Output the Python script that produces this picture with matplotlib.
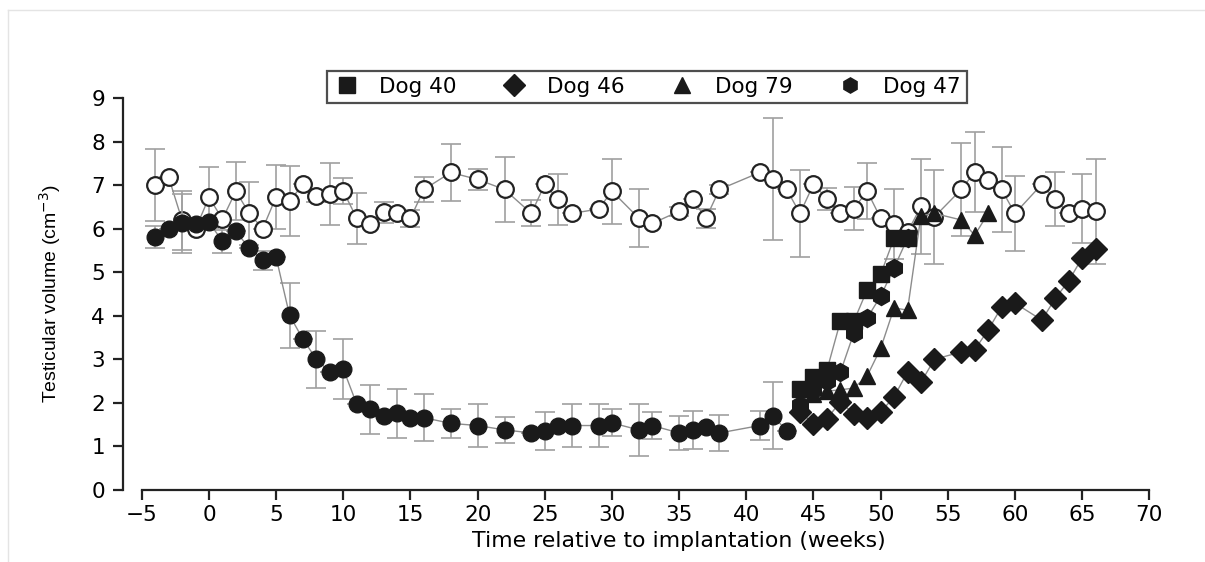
import matplotlib
matplotlib.use('Agg')
import matplotlib.pyplot as plt
from matplotlib.lines import Line2D

plt.rcParams['font.family'] = ['DejaVu Sans']
plt.rcParams['mathtext.fontset'] = 'dejavusans'

# Controles (círculos abiertos)
ctrl_weeks = [-4, -3, -2, -1, 0, 1, 2, 3, 4, 5, 6, 7, 8, 9, 10, 11, 12, 13, 14, 15,
              16, 18, 20, 22, 24, 25, 26, 27, 29, 30, 32, 33, 35, 36, 37, 38, 41, 42, 43, 44,
              45, 46, 47, 48, 49, 50, 51, 52, 53, 54, 56, 57, 58, 59, 60, 62, 63, 64, 65, 66]
ctrl_vals = [7.0, 7.18, 6.19, 5.99, 6.72, 6.22, 6.86, 6.35, 6.0, 6.73, 6.63, 7.02, 6.74, 6.79, 6.86, 6.24, 6.1, 6.38, 6.35, 6.24,
             6.9, 7.29, 7.13, 6.9, 6.35, 7.02, 6.67, 6.35, 6.45, 6.86, 6.24, 6.12, 6.4, 6.67, 6.24, 6.9, 7.29, 7.13, 6.9, 6.35,
             7.02, 6.69, 6.35, 6.46, 6.86, 6.24, 6.1, 5.92, 6.51, 6.27, 6.9, 7.3, 7.11, 6.9, 6.35, 7.02, 6.67, 6.35, 6.46, 6.4]
ctrl_err = [0.83, 0, 0.68, 0, 0.7, 0, 0.67, 0.72, 0, 0.74, 0.8, 0, 0.12, 0.71, 0.3, 0.59, 0, 0.24, 0, 0.2,
            0.28, 0.65, 0.25, 0.75, 0.3, 0, 0.59, 0, 0, 0.75, 0.67, 0, 0.1, 0, 0.22, 0.1, 0, 1.4, 0, 1.0,
            0, 0.25, 0, 0.5, 0.64, 0, 0.8, 0, 1.1, 1.08, 1.07, 0.91, 0, 0.97, 0.87, 0, 0.62, 0, 0.79, 1.2]

# Tratados (círculos negros)
tr_weeks = [-4, -3, -2, -1, 0, 1, 2, 3, 4, 5, 6, 7, 8, 9, 10, 11, 12, 13, 14, 15,
            16, 18, 20, 22, 24, 25, 26, 27, 29, 30, 32, 33, 35, 36, 37, 38, 41, 42, 43]
tr_vals = [5.8, 6.0, 6.12, 6.1, 6.15, 5.71, 5.94, 5.55, 5.27, 5.34, 4.01, 3.46, 3.0, 2.71, 2.78, 1.97, 1.85, 1.71, 1.76, 1.66,
           1.66, 1.53, 1.48, 1.38, 1.31, 1.35, 1.48, 1.48, 1.48, 1.54, 1.38, 1.48, 1.31, 1.38, 1.45, 1.31, 1.48, 1.7, 1.36]
tr_err = [0.25, 0, 0.68, 0, 0, 0.27, 0, 0, 0.22, 0, 0.74, 0, 0.65, 0, 0.68, 0, 0.57, 0, 0.57, 0,
          0.54, 0.33, 0.49, 0.29, 0, 0.43, 0, 0.49, 0.49, 0.31, 0.59, 0.31, 0.39, 0.43, 0, 0.42, 0.33, 0.77, 0]

# Perros individuales
dog40_weeks = [44, 45, 46, 47, 48, 49, 50, 51, 52]
dog40_vals = [2.33, 2.6, 2.75, 3.87, 3.87, 4.6, 4.95, 5.78, 5.78]
dog46_weeks = [44, 45, 46, 47, 48, 49, 50, 51, 52, 53, 54, 56, 57, 58, 59, 60, 62, 63, 64, 65, 66]
dog46_vals = [1.8, 1.52, 1.63, 2.03, 1.74, 1.66, 1.79, 2.14, 2.71, 2.47, 3.0, 3.17, 3.22, 3.67, 4.2, 4.29, 3.9, 4.4, 4.8, 5.33, 5.53]
dog79_weeks = [44, 45, 46, 47, 48, 49, 50, 51, 52, 53, 54, 56, 57, 58]
dog79_vals = [2.0, 2.2, 2.27, 2.3, 2.34, 2.62, 3.25, 4.18, 4.13, 6.3, 6.35, 6.2, 5.85, 6.35]
dog47_weeks = [44, 45, 46, 47, 48, 49, 50, 51, 52]
dog47_vals = [1.95, 2.3, 2.5, 2.7, 3.6, 3.95, 4.45, 5.1, 5.78]

fig = plt.figure(figsize=(12.05, 5.62), dpi=100)
ax = fig.add_axes([123 / 1205, 72 / 562, (1152 - 123) / 1205, (490 - 98) / 562])

line_c = '#8c8c8c'
err_c = '#a0a0a0'
dark = '#1a1a1a'

ax.errorbar(ctrl_weeks, ctrl_vals, yerr=ctrl_err, fmt='none', ecolor=err_c,
            elinewidth=1.2, capsize=7, capthick=1.2, zorder=1)
ax.plot(ctrl_weeks, ctrl_vals, color=line_c, lw=1, zorder=2)
ax.plot(ctrl_weeks, ctrl_vals, 'o', ls='none', ms=12, mfc='white', mec='#222222', mew=1.6, zorder=3)

ax.errorbar(tr_weeks, tr_vals, yerr=tr_err, fmt='none', ecolor=err_c,
            elinewidth=1.2, capsize=7, capthick=1.2, zorder=4)
ax.plot(tr_weeks, tr_vals, color=line_c, lw=1, zorder=5)
ax.plot(tr_weeks, tr_vals, 'o', ls='none', ms=12, mfc=dark, mec=dark, zorder=6)

dogs = [
    (dog46_weeks, dog46_vals, 'D', 11, 'Dog 46'),
    (dog79_weeks, dog79_vals, '^', 12, 'Dog 79'),
    (dog47_weeks, dog47_vals, 'h', 13, 'Dog 47'),
    (dog40_weeks, dog40_vals, 's', 12, 'Dog 40'),
]
for i, (w, v, m, s, lab) in enumerate(dogs):
    ax.plot(w, v, color=line_c, lw=1, zorder=7 + 2 * i)
    ax.plot(w, v, m, ls='none', ms=s, mfc=dark, mec=dark, zorder=8 + 2 * i)

ax.set_xlim(-6.4, 70.2)
ax.set_ylim(0, 9)
ax.set_xticks(range(-5, 71, 5))
ax.set_xticklabels(['\u22125'] + [str(t) for t in range(0, 71, 5)])
ax.set_yticks(range(0, 10))
ax.spines['top'].set_visible(False)
ax.spines['right'].set_visible(False)
ax.spines['left'].set_bounds(0, 9)
ax.spines['bottom'].set_bounds(-5, 70)
for sp in ('left', 'bottom'):
    ax.spines[sp].set_linewidth(1.6)
    ax.spines[sp].set_color('#222222')
ax.tick_params(axis='both', direction='out', length=7, width=1.6, labelsize=15.5, color='#222222')
ax.tick_params(axis='y', pad=6)
ax.tick_params(axis='x', pad=4)

ax.set_xlabel('Time relative to implantation (weeks)', fontsize=15.8, labelpad=3)
ax.xaxis.set_label_coords((679 - 123) / (1152 - 123), -0.105)
ax.set_ylabel('Testicular volume (cm$^{-3}$)', fontsize=14, labelpad=20,
              family=['Liberation Sans', 'DejaVu Sans'])

handles = [
    Line2D([], [], marker='s', ls='none', ms=11, mfc=dark, mec=dark, label='Dog 40'),
    Line2D([], [], marker='D', ls='none', ms=11, mfc=dark, mec=dark, label='Dog 46'),
    Line2D([], [], marker='^', ls='none', ms=11, mfc=dark, mec=dark, label='Dog 79'),
    Line2D([], [], marker='h', ls='none', ms=11, mfc=dark, mec=dark, label='Dog 47'),
]
leg = fig.legend(handles=handles, loc='center', bbox_to_anchor=(647 / 1205, 1 - 87 / 562),
                 ncol=4, fontsize=15.5, frameon=True, fancybox=False, handletextpad=0.9,
                 columnspacing=2.1, borderpad=0.3, handlelength=1.2)
leg.get_frame().set_edgecolor('#222222')
leg.get_frame().set_linewidth(1.6)

# borde tenue de la figura original
fig.add_artist(Line2D([8 / 1205, 1], [1 - 10 / 562, 1 - 10 / 562], color='#e4e4e4', lw=1))
fig.add_artist(Line2D([8 / 1205, 8 / 1205], [0, 1 - 10 / 562], color='#e4e4e4', lw=1))

fig.savefig('out.png', dpi=100)
